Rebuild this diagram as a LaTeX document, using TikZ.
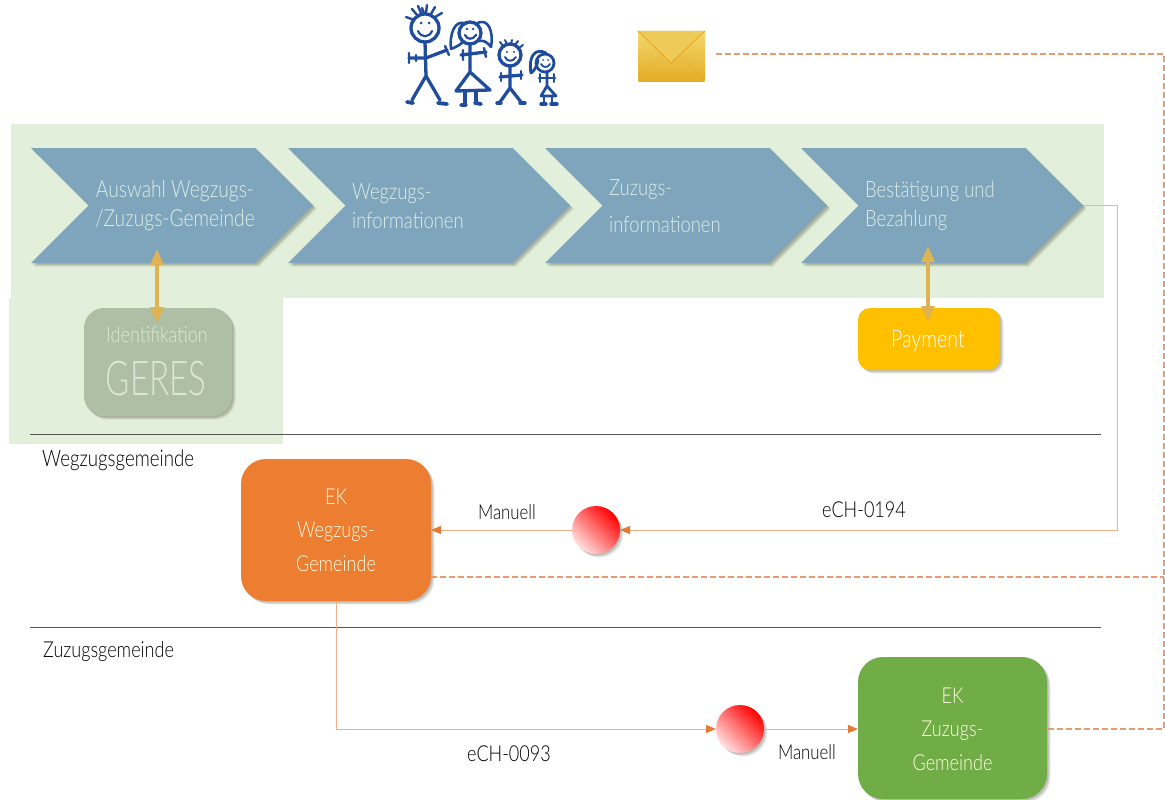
\documentclass[tikz,border=0pt]{standalone}
\usepackage{fontspec}
\setmainfont{Lato Light}[FakeStretch=0.82]
\usetikzlibrary{shapes.symbols,shadows,arrows.meta,calc}
\definecolor{bandgreen}{HTML}{E2EFDA}
\definecolor{chevblue}{HTML}{7FA5BC}
\definecolor{chevtext}{HTML}{DCEEE6}
\definecolor{sagebox}{HTML}{AFBFA6}
\definecolor{sagetext}{HTML}{DDE6D6}
\definecolor{goldline}{HTML}{DFB254}
\definecolor{conn}{HTML}{F0AE8A}
\definecolor{conntip}{HTML}{E67A35}
\definecolor{dashc}{HTML}{EA9A72}
\definecolor{famblue}{HTML}{1F4C9C}
\definecolor{ekorange}{HTML}{ED7D31}
\definecolor{ekgreen}{HTML}{70AD47}
\definecolor{payyellow}{HTML}{FFC000}
\definecolor{ruleline}{HTML}{555555}
\definecolor{envtop}{HTML}{F3D76E}
\definecolor{envbot}{HTML}{E3AC24}
\tikzset{
  softshadow/.style={
    drop shadow={shadow xshift=3.5pt,shadow yshift=-3.5pt,opacity=.10,fill=black!70!olive},
    drop shadow={shadow xshift=2.5pt,shadow yshift=-2.5pt,opacity=.13,fill=black!70!olive},
    drop shadow={shadow xshift=1.5pt,shadow yshift=-1.5pt,opacity=.16,fill=black!70!olive}},
  chev/.style={shape=signal,signal to=east,signal from=west,signal pointer angle=90,fill=chevblue,minimum width=282pt,minimum height=115pt,inner sep=0pt,outer sep=0pt,softshadow},
  chevlabel/.style={text=chevtext,font=\fontsize{22.5}{29}\selectfont,align=left,inner sep=0pt},
  procbox/.style={rounded corners=#1,inner sep=0pt,outer sep=0pt,softshadow},
  ektext/.style={align=center,font=\fontsize{22}{33.5}\selectfont,text=white!88!yellow},
  ball/.style={circle,minimum size=48pt,inner sep=0pt,outer sep=0pt,top color=red,bottom color=red!12,shading angle=-45,softshadow},
  flow/.style={draw=conn,line width=1pt,-{Triangle[length=10pt,width=8pt,fill=conntip,color=conntip]}},
  dashflow/.style={draw=dashc,line width=1.1pt,dash pattern=on 6pt off 3pt},
  gold/.style={draw=goldline,line width=3.2pt,{Triangle[length=16pt,width=13pt]}-{Triangle[length=16pt,width=13pt]}},
  rulel/.style={draw=ruleline,line width=.9pt},
  plainlabel/.style={font=\fontsize{22}{26}\selectfont,text=black,inner sep=0pt},
  fam/.style={draw=famblue,line width=3.3pt,line cap=round,line join=round,fill=none},
}
\begin{document}
\begin{tikzpicture}[x=1pt,y=-1pt]
\useasboundingbox (0,0) rectangle (1165,800);
% bands
\fill[bandgreen] (11,124) rectangle (1104,298);
\fill[bandgreen] (9,298) rectangle (283,444);
% rules
\coordinate (r1a) at (30,434); \coordinate (r1b) at (1101,434);
\coordinate (r2a) at (30,627); \coordinate (r2b) at (1101,627);
\draw[rulel] (r1a) -- (r1b);
\draw[rulel] (r2a) -- (r2b);
% chevrons
\node[chev] (s1) at (172,205.5) {};
\node[chev] (s2) at (429,205.5) {};
\node[chev] (s3) at (686,205.5) {};
\node[chev] (s4) at (942,205.5) {};
\node[chevlabel] (t1) at (175,206) {\makebox[0pt]{\fontsize{23.5}{29}\selectfont Auswahl Wegzugs-}\\[0pt]\makebox[0pt]{\fontsize{23.5}{29}\selectfont /Zuzugs-Gemeinde}};
\node[chevlabel,anchor=west] (t2) at (352,206) {Wegzugs-\\informationen};
\node[chevlabel,anchor=west,font=\fontsize{22.5}{37}\selectfont] (t3) at (609,206) {Zuzugs-\\informationen};
\node[chevlabel,anchor=west] (t4) at (865,206) {Bestätigung und\\Bezahlung};
% boxes
\node[procbox=20pt,fill=sagebox,minimum width=148pt,minimum height=108pt] (geres) at (158,362) {};
\node[text=sagetext,font=\fontsize{22}{26}\selectfont,inner sep=0pt] (ident) at (157,335) {Identifikation};
\node[text=sagetext,font=\fontsize{48}{52}\selectfont,inner sep=0pt] (gerest) at (156,379) {\scalebox{.84}[1]{GERES}};
\node[procbox=12pt,fill=payyellow,minimum width=142pt,minimum height=62pt] (pay) at (929,339) {};
\node[text=white,font=\fontsize{24}{28}\selectfont,inner sep=0pt] (payt) at (928,341) {Payment};
\node[procbox=25pt,fill=ekorange,minimum width=190pt,minimum height=142pt] (ekw) at (336,530) {};
\node[ektext] (ekwt) at (336,530) {EK\\Wegzugs-\\Gemeinde};
\node[procbox=25pt,fill=ekgreen,minimum width=189pt,minimum height=142pt] (ekz) at (952.5,728) {};
\node[ektext] (ekzt) at (952.5,729) {EK\\Zuzugs-\\Gemeinde};
\node[ball] (c1) at (596,530) {};
\node[ball] (c2) at (740,729) {};
% gold arrows
\coordinate (g1a) at (157,249); \coordinate (g1b) at (157,323);
\coordinate (g2a) at (928,246); \coordinate (g2b) at (928,322);
\draw[gold] (g1a) -- (g1b);
\draw[gold] (g2a) -- (g2b);
% connectors
\coordinate (rt1) at (1117,205.5);
\coordinate (rt2) at (1117,530);
\draw[flow] (s4.east) -- (rt1) -- (rt2) -- (c1.east);
\draw[flow] (c1.west) -- (ekw.east);
\draw[flow] (ekw.south) |- (c2.west);
\draw[flow] (c2.east) -- (ekz.west |- c2.east);
\coordinate (envout) at (716,54);
\coordinate (dr0) at (1164,54);
\coordinate (dr1) at (1164,729);
\coordinate (dw0) at (431,577);
\coordinate (dw1) at (1164,577);
\draw[dashflow] (envout) -- (dr0) -- (dr1) -- (ekz.east |- dr1);
\draw[dashflow] (dw0) -- (dw1);
% labels
\node[plainlabel,anchor=west,font=\fontsize{22.8}{26}\selectfont] (lw) at (42,460) {Wegzugsgemeinde};
\node[plainlabel,anchor=west] (lz) at (43,652) {Zuzugsgemeinde};
\node[plainlabel,font=\fontsize{20.5}{26}\selectfont] (m1) at (507,512) {Manuell};
\node[plainlabel] (e194) at (864,510) {eCH-0194};
\node[plainlabel] (e93) at (509,754) {eCH-0093};
\node[plainlabel,font=\fontsize{20.5}{26}\selectfont] (m2) at (807,752) {Manuell};
% envelope
\node[rounded corners=2pt,minimum width=67pt,minimum height=51pt,inner sep=0pt,top color=envtop,bottom color=envbot] (env) at (671.5,56.5) {};
\fill[envtop!70!envbot] (env.north west) -- (671,63) -- (env.north east) -- cycle;
\draw[draw=envbot!80!orange,line width=.8pt,line join=round] (env.north west) -- (671,63) -- (env.north east);
\draw[draw=envbot!80!orange,line width=.5pt,opacity=.5] (env.south west) -- (661,55);
\draw[draw=envbot!80!orange,line width=.5pt,opacity=.5] (env.south east) -- (681,55);
% family: father
\draw[fam] (425,28) circle (14);
\draw[fam,line width=2.2pt] (418,31) .. controls (421,38) and (429,38) .. (432,31);
\fill[famblue] (421,23) circle (1.5) (429,23) circle (1.5);
\draw[fam,line width=2.4pt] (417,15) -- (412,9) (421,13) -- (418,6) (426,13) -- (427,5) (431,14) -- (435,7) (435,17) -- (442,13) (414,20) -- (406,17) (424,13) -- (422,8);
\draw[fam] (425,42) -- (426,76) (426,76) -- (412,100) (426,76) -- (440,100);
\draw[fam] (409,58) -- (426,58) -- (447,50);
\draw[fam,line width=2.4pt] (409,53) -- (409,63) (445,46) -- (449,55) (416,55) -- (416,61);
\draw[fam,line width=3.8pt] (407,102) -- (413,103) (438,103) -- (447,104);
% mother
\draw[fam] (470,33) circle (11);
\draw[fam,line width=2.2pt] (465,35) .. controls (467,40) and (473,40) .. (476,35);
\fill[famblue] (467,29) circle (1.3) (473,29) circle (1.3);
\draw[fam,line width=2.6pt] (466,24) .. controls (455,18) and (449,35) .. (451,49) .. controls (456,47) and (460,45) .. (463,42);
\draw[fam,line width=2.6pt] (476,24) .. controls (488,16) and (494,32) .. (491,47) .. controls (487,42) and (484,40) .. (479,41);
\draw[fam] (470,45) -- (470,72) (470,72) -- (456,91) -- (490,90) -- cycle;
\draw[fam] (461,55) -- (486,52);
\draw[fam,line width=2.4pt] (463,50) -- (463,60) (484,48) -- (486,57);
\draw[fam] (465,92) -- (465,104) (476,91) -- (476,103);
\draw[fam,line width=3.8pt] (461,105) -- (466,105) (475,103) -- (481,104);
% boy
\draw[fam] (510,55) circle (11);
\draw[fam,line width=2pt] (505,57) .. controls (507,62) and (513,62) .. (516,57);
\fill[famblue] (507,52) circle (1.2) (514,52) circle (1.2);
\draw[fam,line width=2pt] (503,46) -- (500,42) (507,44) -- (505,40) (511,44) -- (512,40) (515,45) -- (518,41) (519,48) -- (523,45);
\draw[fam] (510,66) -- (510,88) (510,88) -- (500,102) (510,88) -- (521,102);
\draw[fam] (500,77) -- (522,75);
\draw[fam,line width=2.2pt] (501,73) -- (501,81) (521,71) -- (521,79);
\draw[fam,line width=3.4pt] (497,103) -- (501,103) (520,103) -- (525,103);
% girl
\draw[fam,line width=2.8pt] (545,63) circle (9);
\draw[fam,line width=1.8pt] (541,64) .. controls (543,68) and (548,68) .. (550,64);
\fill[famblue] (543,60) circle (1) (548,60) circle (1);
\draw[fam,line width=2.8pt] (546,53) .. controls (535,47) and (528,57) .. (531,73) .. controls (535,70) and (537,66) .. (538,60);
\draw[fam,line width=2.8pt] (547,72) -- (547,86) (547,86) -- (541,96) -- (556,96) -- cycle;
\draw[fam,line width=2.8pt] (539,78) -- (555,78);
\draw[fam,line width=2pt] (540,74) -- (540,82) (554,74) -- (554,82);
\draw[fam,line width=2.8pt] (544,97) -- (544,102) (552,97) -- (552,102);
\draw[fam,line width=3.4pt] (541,104) -- (546,104) (551,104) -- (557,104);
\end{tikzpicture}
\end{document}
